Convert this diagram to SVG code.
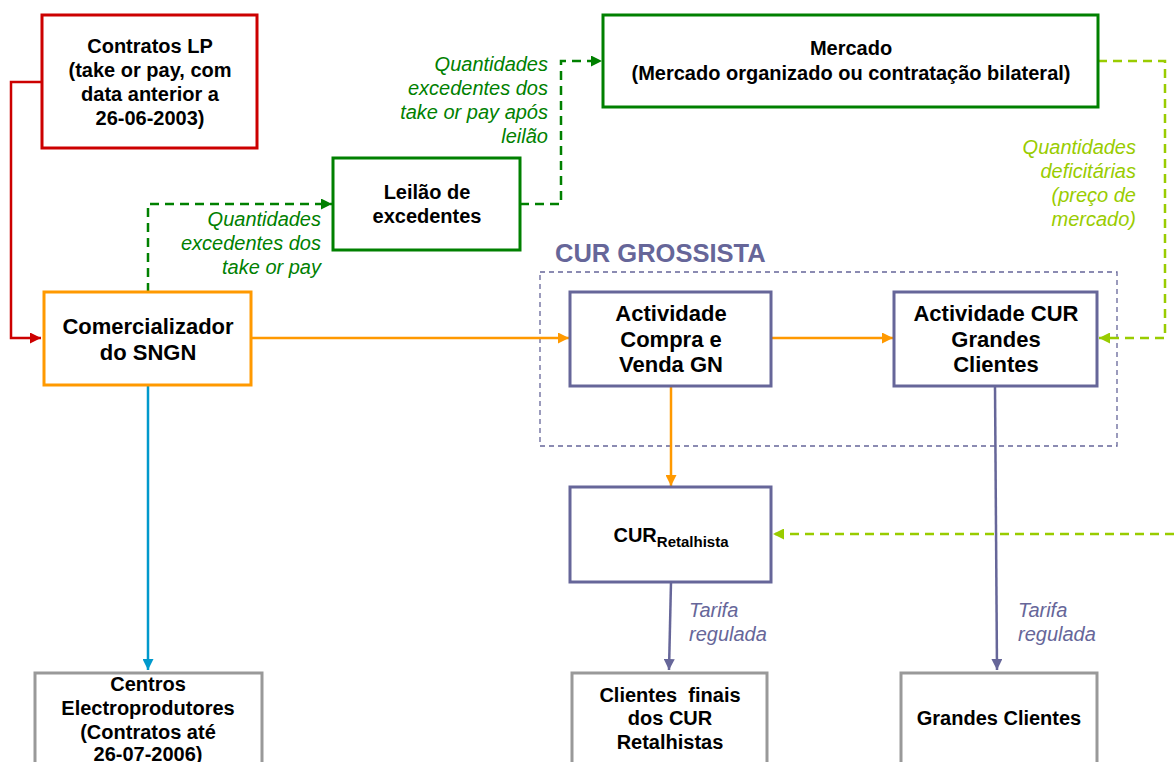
<svg xmlns="http://www.w3.org/2000/svg" width="1174" height="762" viewBox="0 0 1174 762">
<style>
.box{fill:#fff;stroke-width:3}
.t{font-family:"Liberation Sans",Arial,sans-serif;font-weight:bold;font-size:20px;fill:#000;text-anchor:middle}
.big{font-size:22px}
.lbl{font-family:"Liberation Sans",Arial,sans-serif;font-style:italic;font-size:20px}
.c{fill:none;stroke-width:2.5}
</style>
<defs>
<marker id="aRed" viewBox="0 0 10 10" refX="10" refY="5" markerWidth="11" markerHeight="11" markerUnits="userSpaceOnUse" orient="auto"><path d="M0,0L10,5L0,10z" fill="#CC0000"/></marker>
<marker id="aOr" viewBox="0 0 10 10" refX="10" refY="5" markerWidth="11" markerHeight="11" markerUnits="userSpaceOnUse" orient="auto"><path d="M0,0L10,5L0,10z" fill="#FF9900"/></marker>
<marker id="aGr" viewBox="0 0 10 10" refX="10" refY="5" markerWidth="11" markerHeight="11" markerUnits="userSpaceOnUse" orient="auto"><path d="M0,0L10,5L0,10z" fill="#008000"/></marker>
<marker id="aYg" viewBox="0 0 10 10" refX="10" refY="5" markerWidth="11" markerHeight="11" markerUnits="userSpaceOnUse" orient="auto"><path d="M0,0L10,5L0,10z" fill="#99CC00"/></marker>
<marker id="aBl" viewBox="0 0 10 10" refX="10" refY="5" markerWidth="11" markerHeight="11" markerUnits="userSpaceOnUse" orient="auto"><path d="M0,0L10,5L0,10z" fill="#0099CC"/></marker>
<marker id="aPu" viewBox="0 0 10 10" refX="10" refY="5" markerWidth="11" markerHeight="11" markerUnits="userSpaceOnUse" orient="auto"><path d="M0,0L10,5L0,10z" fill="#666699"/></marker>
</defs>
<rect width="1174" height="762" fill="#fff"/>

<g id="grossista">
<text x="555" y="262" font-family="Liberation Sans,Arial,sans-serif" font-weight="bold" font-size="25.5" fill="#666699">CUR GROSSISTA</text>
<rect x="540" y="272" width="577" height="174" fill="none" stroke="#666699" stroke-width="1.3" stroke-dasharray="5,4"/>
</g>

<g id="connectors">
<path class="c" d="M42,82H11V338H41" stroke="#CC0000" marker-end="url(#aRed)"/>
<path class="c" d="M148,292V204H332" stroke="#008000" stroke-dasharray="9,6" marker-end="url(#aGr)"/>
<path class="c" d="M520,204H561V61H602" stroke="#008000" stroke-dasharray="9,6" marker-end="url(#aGr)"/>
<path class="c" d="M1098,61H1165V338H1099" stroke="#99CC00" stroke-dasharray="9,6" marker-end="url(#aYg)"/>
<path class="c" d="M1174,534H773" stroke="#99CC00" stroke-dasharray="9,6" marker-end="url(#aYg)"/>
<path class="c" d="M251,338H569" stroke="#FF9900" marker-end="url(#aOr)"/>
<path class="c" d="M771,338H893" stroke="#FF9900" marker-end="url(#aOr)"/>
<path class="c" d="M671,386V486" stroke="#FF9900" marker-end="url(#aOr)"/>
<path class="c" d="M148,386V670" stroke="#0099CC" marker-end="url(#aBl)"/>
<path class="c" d="M671,582L669,670" stroke="#666699" marker-end="url(#aPu)"/>
<path class="c" d="M995,386L997,670" stroke="#666699" marker-end="url(#aPu)"/>
<g class="lbl" fill="#008000" text-anchor="end">
<text x="321" y="226">Quantidades</text>
<text x="321" y="250">excedentes dos</text>
<text x="321" y="274">take or pay</text>
<text x="548" y="71">Quantidades</text>
<text x="548" y="95">excedentes dos</text>
<text x="548" y="119">take or pay após</text>
<text x="548" y="143">leilão</text>
</g>
<g class="lbl" fill="#99CC00" text-anchor="end">
<text x="1136" y="154">Quantidades</text>
<text x="1136" y="178">deficitárias</text>
<text x="1136" y="202">(preço de</text>
<text x="1136" y="226">mercado)</text>
</g>
<g class="lbl" fill="#666699">
<text x="689" y="617">Tarifa</text>
<text x="689" y="641">regulada</text>
<text x="1018" y="617">Tarifa</text>
<text x="1018" y="641">regulada</text>
</g>
</g>

<g id="contratos">
<rect class="box" x="42" y="15" width="215" height="133" stroke="#CC0000"/>
<text class="t" x="150" y="53">Contratos LP</text>
<text class="t" x="150" y="77">(take or pay, com</text>
<text class="t" x="150" y="101">data anterior a</text>
<text class="t" x="150" y="125">26-06-2003)</text>
</g>

<g id="comercializador">
<rect class="box" x="44" y="292" width="207" height="93" stroke="#FF9900"/>
<text class="t big" x="148" y="334">Comercializador</text>
<text class="t big" x="148" y="360">do SNGN</text>
</g>

<g id="leilao">
<rect class="box" x="333" y="158" width="187" height="92" stroke="#008000"/>
<text class="t" x="427" y="199">Leilão de</text>
<text class="t" x="427" y="223">excedentes</text>
</g>

<g id="mercado">
<rect class="box" x="603" y="15" width="495" height="92" stroke="#008000"/>
<text class="t" x="851" y="55">Mercado</text>
<text class="t" x="851" y="80">(Mercado organizado ou contratação bilateral)</text>
</g>

<g id="compra-venda">
<rect class="box" x="570" y="292" width="201" height="94" stroke="#666699"/>
<text class="t big" x="671" y="321">Actividade</text>
<text class="t big" x="671" y="347">Compra e</text>
<text class="t big" x="671" y="372">Venda GN</text>
</g>

<g id="cur-grandes">
<rect class="box" x="894" y="292" width="203" height="94" stroke="#666699"/>
<text class="t big" x="996" y="321">Actividade CUR</text>
<text class="t big" x="996" y="347">Grandes</text>
<text class="t big" x="996" y="372">Clientes</text>
</g>

<g id="cur-retalhista">
<rect class="box" x="570" y="487" width="201" height="95" stroke="#666699"/>
<text class="t" x="671" y="542">CUR<tspan font-size="15" dy="5">Retalhista</tspan></text>
</g>

<g id="centros">
<rect class="box" x="35" y="673" width="227" height="110" stroke="#999999"/>
<text class="t" x="148" y="691">Centros</text>
<text class="t" x="148" y="715">Electroprodutores</text>
<text class="t" x="148" y="739">(Contratos até</text>
<text class="t" x="148" y="761">26-07-2006)</text>
</g>

<g id="clientes-finais">
<rect class="box" x="572" y="673" width="195" height="110" stroke="#999999"/>
<text class="t" x="670" y="702" style="white-space:pre">Clientes  finais</text>
<text class="t" x="670" y="725">dos CUR</text>
<text class="t" x="670" y="749">Retalhistas</text>
</g>

<g id="grandes-clientes">
<rect class="box" x="901" y="673" width="196" height="110" stroke="#999999"/>
<text class="t" x="999" y="725">Grandes Clientes</text>
</g>
</svg>
